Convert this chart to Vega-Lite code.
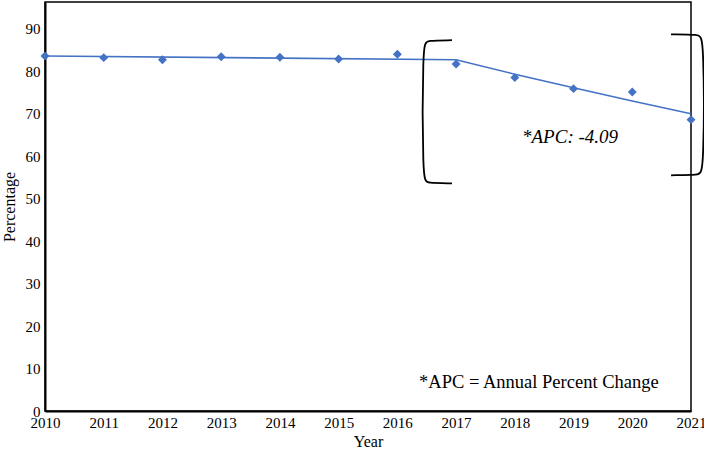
{
  "$schema": "https://vega.github.io/schema/vega-lite/v6.json",
  "width": 646,
  "height": 409,
  "autosize": {"type": "none"},
  "padding": {"left": 45, "top": 2, "right": 13, "bottom": 40},
  "background": "white",
  "config": {
    "view": {"stroke": "black", "strokeWidth": 1.5},
    "font": "'Liberation Serif', 'DejaVu Serif', serif",
    "axis": {"labelFont": "'Liberation Serif', 'DejaVu Serif', serif", "titleFont": "'Liberation Serif', 'DejaVu Serif', serif", "labelColor": "black", "titleColor": "black", "labelFontSize": 15, "titleFontSize": 16, "titleFontWeight": "normal", "grid": false, "ticks": false, "domainColor": "black", "domainWidth": 2}
  },
  "datasets": {
    "obs": [
      {"year": 2010, "pct": 83.6},
      {"year": 2011, "pct": 83.2},
      {"year": 2012, "pct": 82.7},
      {"year": 2013, "pct": 83.4},
      {"year": 2014, "pct": 83.3},
      {"year": 2015, "pct": 82.9},
      {"year": 2016, "pct": 84.0},
      {"year": 2017, "pct": 81.7},
      {"year": 2018, "pct": 78.5},
      {"year": 2019, "pct": 75.9},
      {"year": 2020, "pct": 75.1},
      {"year": 2021, "pct": 68.6}
    ],
    "fit": [
      {"year": 2010, "pct": 83.6},
      {"year": 2017, "pct": 82.7},
      {"year": 2018, "pct": 79.3},
      {"year": 2019, "pct": 76.1},
      {"year": 2020, "pct": 73.0},
      {"year": 2021, "pct": 70.0}
    ],
    "brackets": [
      {"b": "L", "o": 1, "year": 2016.93, "pct": 87.3},
      {"b": "L", "o": 2, "year": 2016.5, "pct": 87.2},
      {"b": "L", "o": 3, "year": 2016.43, "pct": 86.8},
      {"b": "L", "o": 4, "year": 2016.43, "pct": 54.1},
      {"b": "L", "o": 5, "year": 2016.5, "pct": 53.7},
      {"b": "L", "o": 6, "year": 2016.93, "pct": 53.6},
      {"b": "R", "o": 1, "year": 2020.66, "pct": 88.7},
      {"b": "R", "o": 2, "year": 2021.14, "pct": 88.6},
      {"b": "R", "o": 3, "year": 2021.22, "pct": 88.2},
      {"b": "R", "o": 4, "year": 2021.22, "pct": 56.0},
      {"b": "R", "o": 5, "year": 2021.14, "pct": 55.6},
      {"b": "R", "o": 6, "year": 2020.66, "pct": 55.5}
    ],
    "note1": [{"label": "*APC: -4.09", "year": 2018.94, "pct": 64.4}],
    "note2": [{"label": "*APC = Annual Percent Change", "year": 2020.45, "pct": 6.9}]
  },
  "encoding": {
    "x": {"field": "year", "type": "quantitative", "scale": {"domain": [2010, 2021], "nice": false, "zero": false},
      "axis": {"title": "Year", "values": [2010, 2011, 2012, 2013, 2014, 2015, 2016, 2017, 2018, 2019, 2020, 2021], "format": "d", "labelPadding": 4, "titlePadding": 3, "labelFlush": false, "labelOverlap": false}},
    "y": {"field": "pct", "type": "quantitative", "scale": {"domain": [0, 96.3], "nice": false},
      "axis": {"title": "Percentage", "values": [0, 10, 20, 30, 40, 50, 60, 70, 80, 90], "labelPadding": 5, "titlePadding": 8, "labelFlush": false}}
  },
  "layer": [
    {"data": {"name": "fit"}, "mark": {"type": "line", "color": "#4472C4", "strokeWidth": 1.6}},
    {"data": {"name": "obs"}, "mark": {"type": "point", "shape": "diamond", "filled": true, "color": "#4472C4", "size": 80, "opacity": 1}},
    {"data": {"name": "brackets"}, "mark": {"type": "line", "color": "black", "strokeWidth": 1.8, "clip": false, "interpolate": "basis"},
      "encoding": {"detail": {"field": "b"}, "order": {"field": "o"}}},
    {"data": {"name": "note1"}, "mark": {"type": "text", "fontSize": 19, "color": "black", "font": "'Liberation Serif', 'DejaVu Serif', serif", "fontStyle": "italic", "align": "center"},
      "encoding": {"text": {"field": "label"}}},
    {"data": {"name": "note2"}, "mark": {"type": "text", "fontSize": 18.5, "color": "black", "font": "'Liberation Serif', 'DejaVu Serif', serif", "align": "right"},
      "encoding": {"text": {"field": "label"}}}
  ]
}
